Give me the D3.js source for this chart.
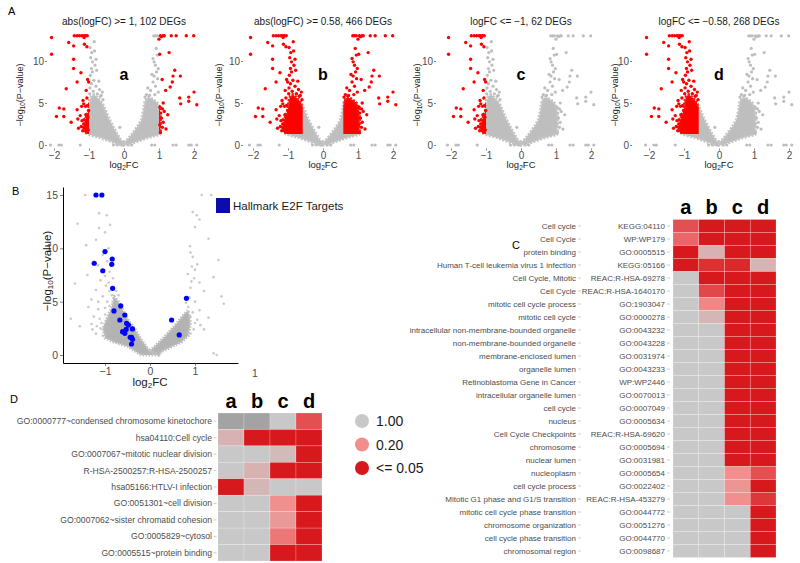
<!DOCTYPE html>
<html><head><meta charset="utf-8">
<script src="https://cdn.jsdelivr.net/npm/d3@7"></script>
<style>body{margin:0;background:#fff;} text{font-family:"Liberation Sans",Arial,Helvetica,sans-serif;}</style>
</head><body><svg id="chart" width="800" height="563"></svg>
<script>
// ================= DATA =================
// Panel A: four volcano plots sharing one gene set
const volcanoTitles = ["abs(logFC) >= 1, 102 DEGs", "abs(logFC) >= 0.58, 466 DEGs", "logFC <= \u22121, 62 DEGs", "logFC <= \u22120.58, 268 DEGs"];
const volcanoLetters = ["a", "b", "c", "d"];
const lowerCut = [-1, -0.58, -1, -0.58];
const upperCut = [1, 0.58, null, null];
const pCut = 1.3; // -log10(0.05)
const volcanoXTicks = [-2, -1, 0, 1, 2];
const volcanoYTicks = [0, 5, 10];
// individual genes [log2FC, -log10 p]
const volcanoPoints = [
  [-2.07,12.8],[-2.07,10.8],[-1.58,12.2],[-1.42,13],[-1.34,13],[-1.27,13],[-1.2,13],[-1.15,13],[-1.1,13],[-1.05,13],
  [-1.14,12.8],[-1.44,11.8],[-1.13,12.0],[-1.06,11.7],[-1.44,10.2],[-1.44,9.1],[-1.23,8.6],[-1.04,7.8],[-1.01,7.5],[-1.34,7.5],
  [-1.65,6.7],[-1.08,6.5],[-1.17,5.3],[-1.15,4.9],[-1.1,4.6],[-1.04,4.7],[-1.85,4.4],[-1.72,4.3],[-1.93,3.4],[-1.72,3.4],
  [-1.51,2.7],[-1.34,4.2],[-1.32,3.1],[-1.2,2.9],[-1.15,2.5],[-1.1,2.3],[-1.05,2.1],[-1.12,1.9],[-1.18,1.7],[-1.08,1.6],
  [-1.22,2.2],[-1.06,2.8],[-1.03,3.3],[-1.25,3.5],[-1.3,2.0],[-1.02,1.8],[-1.14,3.0],[-1.04,2.5],[-1.16,2.1],[-1.01,4.1],
  [-1.09,3.6],[-1.21,4.6],[-1.06,5.6],
  [-0.85,12.3],[-0.97,11.6],[-0.9,9.9],[-0.83,9.5],[-0.93,9.1],[-0.78,8.9],[-0.9,8.7],[-0.96,8.3],[-0.86,7.7],[-0.93,7.3],
  [-0.8,7.0],[-0.97,6.8],[-0.88,6.4],[-0.76,6.1],[-0.95,10.4],[-0.8,10.2],[-0.92,11.0],[-0.72,7.6],[-0.7,6.6],[-0.65,5.9],
  [-0.98,6.1],[-0.84,11.2],[-0.62,6.3],[-0.68,5.8],[-0.6,5.4],
  [-2.1,0],[-1.86,0],[-1.79,0],[-1.25,0],[-0.3,0],[-0.19,0],[-0.07,0],[0.12,0],[0.22,0],[0.79,0],[0.88,0],[1.4,0],[1.49,0],[1.85,0],[1.92,0],[2.08,0],
  [-0.12,2.1],
  [0.85,13],[0.9,13],[0.95,13],[0.83,10.3],[0.86,9.9],[0.9,9.5],[0.98,9.1],[0.93,8.7],[0.86,8.2],[0.96,7.9],
  [0.83,7.5],[0.9,7.0],[0.76,6.5],[0.98,6.3],[0.73,5.9],[0.88,6.0],[0.95,10.7],[0.8,8.4],[0.68,6.8],[0.92,11.5],
  [0.64,6.0],[0.6,5.7],
  [1.04,13],[1.07,12.9],[1.12,13],[1.15,13],[1.35,13],[1.49,13],[1.78,13],[1.99,13],[1.0,12.6],[1.29,11.0],
  [1.02,10.8],[1.45,8.9],[1.4,8.2],[1.61,8.2],[1.09,7.8],[1.38,7.5],[1.32,6.9],[1.19,6.5],[2.0,6.3],[1.85,5.7],
  [1.59,5.6],[1.62,4.9],[1.85,5.2],[2.08,4.8],[1.12,5.0],[1.03,4.5],[1.1,4.3],[1.15,4.0],[1.05,3.8],[1.12,2.7],
  [1.1,2.1],[1.2,1.9],[1.04,1.5],[1.07,3.2],[1.25,3.6],[1.02,2.4]
];
// dense central cloud outlines (log2FC, -log10 p)
const cloudLeft = [[0,0],[-0.15,0.1],[-0.3,0.3],[-0.5,0.6],[-0.7,0.9],[-0.9,1.1],[-1.05,1.3],[-1.12,1.5],[-1.14,2.5],[-1.08,3.3],
  [-1.0,4.2],[-0.98,5.2],[-0.93,5.8],[-0.86,6.0],[-0.78,5.7],[-0.68,5.3],[-0.6,4.8],[-0.5,3.8],[-0.4,2.9],[-0.3,2.1],
  [-0.2,1.35],[-0.1,0.65],[0,0.3]];
const cloudRight = [[0,0.3],[0.1,0.65],[0.2,1.15],[0.3,1.7],[0.4,2.3],[0.5,3.0],[0.56,4.2],[0.6,5.3],[0.7,5.7],[0.8,5.5],
  [0.9,5.2],[0.98,4.9],[1.03,4.0],[1.05,2.5],[1.03,1.25],[0.9,1.1],[0.7,0.9],[0.5,0.6],[0.3,0.3],[0.15,0.1],[0,0]];

// Panel B: volcano with Hallmark E2F targets
const bXTicks = [-1, 0, 1];
const bYTicks = [0, 5, 10, 15];
const e2fPoints = [[-1.2,15.0],[-1.07,15.0],[-1.0,9.7],[-1.24,8.6],[-0.84,9.0],[-0.85,8.5],[-1.05,7.9],[-0.83,6.25],[-0.8,4.13],
  [-0.65,4.6],[-0.56,3.75],[-0.67,3.28],[-0.52,2.97],[-0.48,2.81],[-0.39,2.44],[-0.53,2.4],[-0.61,2.19],[-0.56,2.03],
  [-0.44,1.66],[-0.41,1.66],[-0.39,1.47],[-0.41,1.03],[0.81,5.31],[0.48,3.28],[0.65,1.88]];
const bBackground = [[-1.44,15],[-1.13,13.3],[-0.96,13.1],[-1.13,11.9],[-0.89,12.2],[-1.61,12.3],[-1.42,10.3],[-1.0,11.5],
  [-1.2,10.8],[-0.92,10.0],[-1.05,9.4],[-0.95,8.8],[-1.15,8.4],[-0.9,7.8],[-1.39,7.5],[-1.67,6.7],[-1.1,7.0],[-0.98,6.5],
  [-1.2,6.1],[-0.9,6.0],[-1.05,5.5],[-1.3,5.2],[-0.95,5.0],[-1.37,4.5],[-1.15,4.3],[-0.9,4.6],[-1.76,3.4],[-1.25,3.6],
  [-1.0,3.8],[-1.56,2.7],[-1.3,2.9],[-1.1,2.5],[-0.95,3.2],[-1.2,2.0],[-0.9,2.2],[-1.05,1.8],[-0.85,5.6],[-0.88,3.0],
  [-1.12,3.4],[-1.0,4.4],[-0.94,2.6],[-1.18,2.7],[-1.08,3.0],[-0.98,2.0],[-1.28,2.4],[-1.15,5.0],[-0.92,6.8],[-1.0,7.4],
  [-0.75,6.0],[-0.7,5.6],[-0.82,7.2],
  [1.15,15],[1.36,15],[0.95,13.4],[1.04,13.1],[1.1,12.7],[1.0,12.0],[1.3,10.9],[0.89,10.2],[0.9,9.6],[0.95,9.2],
  [0.93,8.3],[1.05,8.5],[1.0,8.0],[1.52,8.9],[1.41,7.3],[0.98,7.2],[1.1,6.8],[0.9,6.3],[1.2,6.0],[1.59,5.5],
  [1.64,4.8],[1.0,5.0],[0.85,4.5],[1.1,4.2],[0.9,3.6],[1.3,3.5],[1.0,3.0],[0.85,2.6],[1.2,2.4],[0.9,2.0],[1.41,0.16],[1.48,0],
  [0.95,4.0],[1.05,3.3],[0.88,5.4],[0.8,4.9],[1.12,2.8],[0.97,2.4],[0.84,7.6],[0.92,6.9]];
const bCloudLeft = [[0.2,0],[-0.2,0],[-0.5,0.8],[-0.8,1.2],[-1.0,1.6],[-1.05,2.5],[-0.95,3.5],[-0.85,4.5],[-0.8,5.5],
  [-0.7,5.0],[-0.6,4.2],[-0.5,3.4],[-0.35,2.5],[-0.2,1.5],[-0.05,0.6],[0,0.4]];
const bCloudRight = [[0,0.4],[0.15,1.0],[0.3,1.6],[0.45,2.3],[0.6,3.0],[0.75,3.8],[0.85,4.2],[0.9,3.0],[0.85,1.8],[0.7,1.2],
  [0.45,0.7],[0.25,0.3],[0.2,0]];

// Panel C: enrichment heatmap (p-values, columns a-d)
const heatCols = ["a", "b", "c", "d"];
const cTerms = ["Cell cycle","Cell Cycle","protein binding","Human T-cell leukemia virus 1 infection","Cell Cycle, Mitotic","Cell Cycle",
  "mitotic cell cycle process","mitotic cell cycle","intracellular non-membrane-bounded organelle","non-membrane-bounded organelle",
  "membrane-enclosed lumen","organelle lumen","Retinoblastoma Gene in Cancer","intracellular organelle lumen","cell cycle","nucleus",
  "Cell Cycle Checkpoints","chromosome","nuclear lumen","nucleoplasm","cell cycle process","Mitotic G1 phase and G1/S transition",
  "mitotic cell cycle phase transition","chromosome organization","cell cycle phase transition","chromosomal region"];
const cIds = ["KEGG:04110","WP:WP179","GO:0005515","KEGG:05166","REAC:R-HSA-69278","REAC:R-HSA-1640170","GO:1903047","GO:0000278",
  "GO:0043232","GO:0043228","GO:0031974","GO:0043233","WP:WP2446","GO:0070013","GO:0007049","GO:0005634","REAC:R-HSA-69620",
  "GO:0005694","GO:0031981","GO:0005654","GO:0022402","REAC:R-HSA-453279","GO:0044772","GO:0051276","GO:0044770","GO:0098687"];
const cPvals = [
  [0.12,0.01,0.01,0.01],[0.15,0.01,0.01,0.01],[0.01,0.7,0.01,0.01],[0.02,0.08,0.07,0.72],[1,0.01,0.01,0.01],
  [1,0.11,0.01,0.01],[1,0.19,0.01,0.01],[1,0.75,0.01,0.01],[1,1,0.01,0.01],[1,1,0.01,0.01],
  [1,1,0.01,0.01],[1,1,0.01,0.01],[1,1,0.01,0.01],[1,1,0.01,0.01],[1,1,0.01,0.01],[1,1,0.01,0.01],
  [1,1,0.01,0.01],[1,1,0.02,0.01],[1,1,0.01,0.01],[1,1,0.2,0.12],[1,1,0.3,0.01],[1,1,0.22,0.09],
  [1,1,1,0.01],[1,1,1,0.01],[1,1,1,0.01],[1,1,1,0.01]];

// Panel D: DAVID heatmap
const dTerms = ["GO:0000777~condensed chromosome kinetochore","hsa04110:Cell cycle","GO:0007067~mitotic nuclear division",
  "R-HSA-2500257:R-HSA-2500257","hsa05166:HTLV-I infection","GO:0051301~cell division","GO:0007062~sister chromatid cohesion",
  "GO:0005829~cytosol","GO:0005515~protein binding"];
const dPvals = [[null,null,1,0.12],[0.7,0.01,0.01,0.01],[1,1,0.8,0.01],[1,0.7,0.01,0.01],[0.01,0.75,1,1],
  [1,1,0.22,0.01],[1,1,0.35,0.01],[1,1,0.17,0.01],[1,1,0.01,0.01]];
const legendValues = [1.0, 0.2, 0.05];
const legendLabels = ["1.00", "0.20", "<= 0.05"];

// ================= DRAW =================
const svg = d3.select("#chart");
const txt = "#4d4d4d";
const fmtMinus = d => d < 0 ? "\u2212" + Math.abs(d) : String(d);
function styleAxis(sel, size) {
  sel.selectAll("text").attr("fill", txt).style("font-size", size + "px");
  sel.selectAll(".tick line").attr("stroke", "#333").attr("stroke-width", 0.6);
}
function logTitle(g, x, y, size, rotate, parts) {
  const t = g.append("text").attr("text-anchor", "middle").style("font-size", size + "px").attr("fill", "#1a1a1a")
    .attr("transform", `translate(${x},${y})${rotate ? " rotate(-90)" : ""}`);
  parts.forEach(p => {
    const s = t.append("tspan").text(p[0]);
    if (p[1]) s.attr("baseline-shift", "-25%").style("font-size", (size * 0.7) + "px");
  });
}

// ---- Panel A
svg.append("text").attr("x", 8).attr("y", 15).text("A").style("font-size", "11px");
const panelCx = [124, 323, 521, 719];
const yAxisX = [47, 243, 436, 632];
volcanoTitles.forEach((title, i) => {
  const cx = panelCx[i];
  const x = d3.scaleLinear().domain([-1, 1]).range([cx - 35, cx + 35]);
  const y = d3.scaleLinear().domain([0, 13]).range([145, 145 - 13 * 8.4]);
  const g = svg.append("g");
  const lo = lowerCut[i], hi = upperCut[i];
  const isSig = d => d[1] >= pCut && (d[0] <= lo || (hi !== null && d[0] >= hi));
  const line = d3.line().x(d => x(d[0])).y(d => y(d[1]));
  const clipId = "sig" + i;
  const cp = g.append("clipPath").attr("id", clipId);
  cp.append("rect").attr("x", x(-3)).attr("width", x(lo) - x(-3)).attr("y", y(14)).attr("height", y(pCut) - y(14));
  if (hi !== null) cp.append("rect").attr("x", x(hi)).attr("width", x(3) - x(hi)).attr("y", y(14)).attr("height", y(pCut) - y(14));
  [cloudLeft, cloudRight].forEach(c => {
    g.append("path").attr("d", line(c) + "Z").attr("fill", "#bebebe").attr("stroke", "#c4c4c4").attr("stroke-width", 3)
      .attr("stroke-dasharray", "2 1.5").attr("stroke-linejoin", "round");
  });
  [cloudLeft, cloudRight].forEach(c => {
    g.append("path").attr("d", line(c) + "Z").attr("fill", "#ff0000").attr("stroke", "#ff1a1a").attr("stroke-width", 3)
      .attr("stroke-dasharray", "2 1.5").attr("stroke-linejoin", "round").attr("clip-path", `url(#${clipId})`);
  });
  g.append("g").selectAll("circle").data(volcanoPoints.filter(d => !isSig(d))).join("circle")
    .attr("cx", d => x(d[0])).attr("cy", d => y(d[1])).attr("r", 1.6).attr("fill", "#bebebe");
  g.append("g").selectAll("circle").data(volcanoPoints.filter(isSig)).join("circle")
    .attr("cx", d => x(d[0])).attr("cy", d => y(d[1])).attr("r", 1.7).attr("fill", "#ff0000");
  g.append("g").attr("transform", `translate(${yAxisX[i]},0)`)
    .call(d3.axisLeft(y).tickValues(volcanoYTicks).tickSize(2).tickPadding(1))
    .call(s => s.select(".domain").remove()).call(s => styleAxis(s, 10));
  g.append("g").attr("transform", `translate(0,148.5)`)
    .call(d3.axisBottom(x).tickValues(volcanoXTicks).tickSize(2).tickPadding(1).tickFormat(fmtMinus))
    .call(s => s.select(".domain").remove()).call(s => styleAxis(s, 10));
  g.append("text").attr("x", cx).attr("y", 25).attr("text-anchor", "middle").style("font-size", "10px").attr("fill", "#1a1a1a").text(title);
  g.append("text").attr("x", x(0)).attr("y", 80).attr("text-anchor", "middle").style("font-size", "16px").style("font-weight", "bold").text(volcanoLetters[i]);
  logTitle(g, cx, 168, 9.5, false, [["log"], ["2", true], ["FC"]]);
  logTitle(g, cx - 101, 95, 9, true, [["\u2212log"], ["10", true], ["(P\u2212value)"]]);
});

// ---- Panel B
svg.append("text").attr("x", 12).attr("y", 195).text("B").style("font-size", "11px");
{
  const x = d3.scaleLinear().domain([-1, 1]).range([105, 195]);
  const y = d3.scaleLinear().domain([0, 15]).range([355, 195]);
  const g = svg.append("g");
  const line = d3.line().x(d => x(d[0])).y(d => y(d[1]));
  [bCloudLeft, bCloudRight].forEach(c => g.append("path").attr("d", line(c) + "Z").attr("fill", "#b3b3b3")
    .attr("stroke", "#c2c2c2").attr("stroke-width", 3).attr("stroke-dasharray", "1.5 1.5").attr("stroke-linejoin", "round"));
  g.append("g").selectAll("circle").data(bBackground).join("circle")
    .attr("cx", d => x(d[0])).attr("cy", d => y(d[1])).attr("r", 1.3).attr("fill", "#b8b8b8").attr("opacity", 0.75);
  g.append("g").selectAll("circle").data(e2fPoints).join("circle")
    .attr("cx", d => x(d[0])).attr("cy", d => y(d[1])).attr("r", 2.6).attr("fill", "#0000ff");
  const xa = x.copy().domain([x.invert(63), x.invert(238)]).range([63, 238]);
  const ya = y.copy().domain([y.invert(363), y.invert(187)]).range([363, 187]);
  g.append("g").attr("transform", "translate(63,0)").call(d3.axisLeft(ya).tickValues(bYTicks).tickSize(3).tickSizeOuter(0).tickPadding(2))
    .call(s => styleAxis(s, 10.5)).call(s => s.select(".domain").attr("stroke", "#000"));
  g.append("g").attr("transform", "translate(0,363)").call(d3.axisBottom(xa).tickValues(bXTicks).tickSize(3).tickSizeOuter(0).tickPadding(2).tickFormat(fmtMinus))
    .call(s => styleAxis(s, 10.5)).call(s => s.select(".domain").attr("stroke", "#000"));
  logTitle(g, 150, 386, 11.5, false, [["log"], ["2", true], ["FC"]]);
  logTitle(g, 51, 271, 11.5, true, [["\u2212log"], ["10", true], ["(P\u2212value)"]]);
  g.append("text").attr("x", 255).attr("y", 377).attr("text-anchor", "middle").style("font-size", "10.5px").attr("fill", txt).text("1");
  g.append("rect").attr("x", 216).attr("y", 198).attr("width", 14).attr("height", 15).attr("fill", "#0c0cad");
  g.append("text").attr("x", 233).attr("y", 210).style("font-size", "11.5px").attr("fill", "#1a1a1a").text("Hallmark E2F Targets");
}

// ---- heatmap colour scale
const pColor = d3.scaleLinear().domain([0.05, 0.2, 1]).range(["#d7181c", "#f28e8e", "#c8c8c8"]).clamp(true);
const naColor = "#a3a3a3";

// ---- Panel C
svg.append("text").attr("x", 512).attr("y", 249).text("C").style("font-size", "11px");
{
  const g = svg.append("g");
  const x = d3.scaleBand().domain(heatCols).range([673, 776]);
  const y = d3.scaleBand().domain(cIds).range([219.5, 557.5]);
  const cells = [];
  cIds.forEach((id, r) => heatCols.forEach((c, k) => cells.push({ id, c, p: cPvals[r][k] })));
  g.selectAll("rect").data(cells).join("rect")
    .attr("x", d => x(d.c)).attr("y", d => y(d.id)).attr("width", x.bandwidth()).attr("height", y.bandwidth())
    .attr("fill", d => d.p === null ? naColor : pColor(d.p)).attr("stroke", "rgba(255,255,255,0.35)").attr("stroke-width", 0.6);
  heatCols.forEach(c => g.append("text").attr("x", x(c) + x.bandwidth() / 2).attr("y", 214).attr("text-anchor", "middle")
    .style("font-size", "20px").style("font-weight", "bold").text(c));
  cIds.forEach((id, r) => {
    const yy = y(id) + y.bandwidth() / 2;
    g.append("text").attr("x", 576).attr("y", yy).attr("dy", "0.35em").attr("text-anchor", "end").style("font-size", "8px").attr("fill", txt).text(cTerms[r]);
    g.append("line").attr("x1", 578).attr("x2", 581).attr("y1", yy).attr("y2", yy).attr("stroke", "#999").attr("stroke-width", 0.5);
    g.append("text").attr("x", 665).attr("y", yy).attr("dy", "0.35em").attr("text-anchor", "end").style("font-size", "8px").attr("fill", txt).text(id);
    g.append("line").attr("x1", 667).attr("x2", 670).attr("y1", yy).attr("y2", yy).attr("stroke", "#999").attr("stroke-width", 0.5);
  });
}

// ---- Panel D
svg.append("text").attr("x", 10).attr("y", 403).text("D").style("font-size", "11px");
{
  const g = svg.append("g");
  const x = d3.scaleBand().domain(heatCols).range([218, 322]);
  const y = d3.scaleBand().domain(dTerms).range([413, 561]);
  const cells = [];
  dTerms.forEach((t, r) => heatCols.forEach((c, k) => cells.push({ t, c, p: dPvals[r][k] })));
  g.selectAll("rect").data(cells).join("rect")
    .attr("x", d => x(d.c)).attr("y", d => y(d.t)).attr("width", x.bandwidth()).attr("height", y.bandwidth())
    .attr("fill", d => d.p === null ? naColor : pColor(d.p)).attr("stroke", "rgba(255,255,255,0.35)").attr("stroke-width", 0.6);
  heatCols.forEach(c => g.append("text").attr("x", x(c) + x.bandwidth() / 2).attr("y", 408).attr("text-anchor", "middle")
    .style("font-size", "20px").style("font-weight", "bold").text(c));
  dTerms.forEach(t => {
    const yy = y(t) + y.bandwidth() / 2;
    g.append("text").attr("x", 212).attr("y", yy).attr("dy", "0.35em").attr("text-anchor", "end").style("font-size", "8.6px").attr("fill", txt).text(t);
    g.append("line").attr("x1", 213.5).attr("x2", 216.5).attr("y1", yy).attr("y2", yy).attr("stroke", "#999").attr("stroke-width", 0.5);
  });
  const ly = d3.scalePoint().domain(legendLabels).range([421, 468]);
  legendValues.forEach((v, k) => {
    g.append("circle").attr("cx", 362).attr("cy", ly(legendLabels[k])).attr("r", 7).attr("fill", pColor(v));
    g.append("text").attr("x", 376).attr("y", ly(legendLabels[k])).attr("dy", "0.36em").style("font-size", "14px").attr("fill", "#1a1a1a").text(legendLabels[k]);
  });
}
</script></body></html>
